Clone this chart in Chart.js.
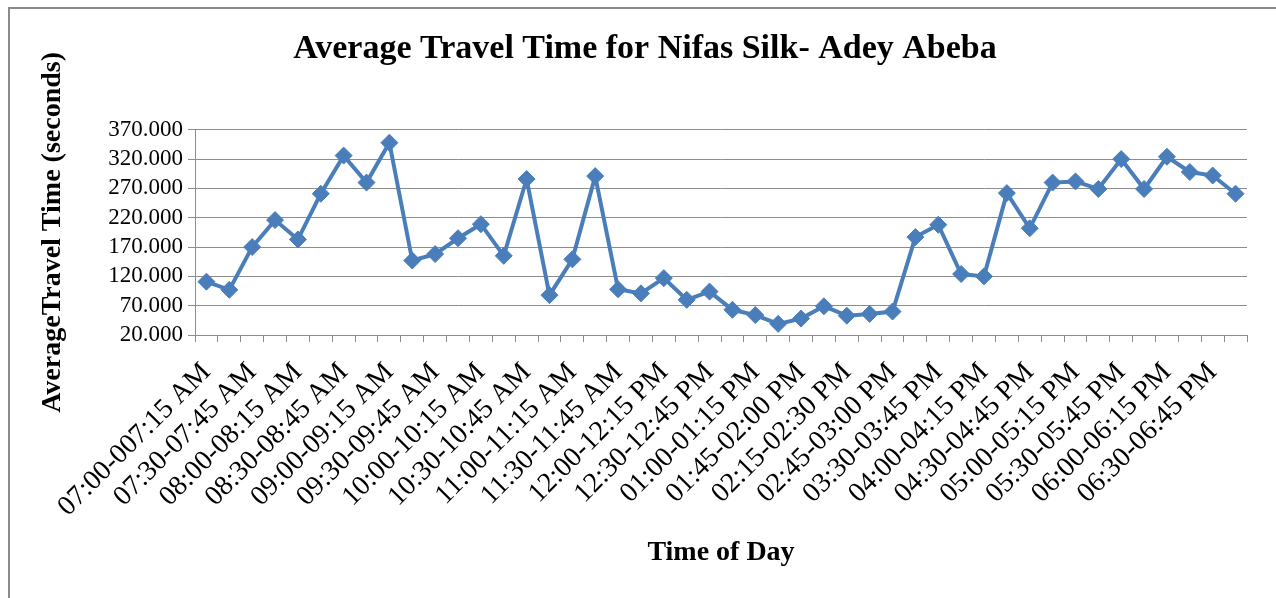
<!DOCTYPE html>
<html>
<head>
<meta charset="utf-8">
<script src="https://cdn.jsdelivr.net/npm/chart.js@4/dist/chart.umd.min.js"></script>
<style>
  html, body { margin: 0; padding: 0; background: #fff; }
  #wrap { position: relative; width: 1276px; height: 598px; overflow: hidden; }
  #frame { position: absolute; left: 8px; top: 7px; width: 1300px; height: 620px;
           border-left: 2px solid #8a8a8a; border-top: 2px solid #8a8a8a; pointer-events: none; }
</style>
</head>
<body>
<div id="wrap">
  <canvas id="myChart" width="1276" height="598"></canvas>
  <div id="frame"></div>
</div>
<script>
const timeSlots = [
  '07:00-007:15 AM', '07:15-07:30 AM', '07:30-07:45 AM', '07:45-08:00 AM',
  '08:00-08:15 AM', '08:15-08:30 AM', '08:30-08:45 AM', '08:45-09:00 AM',
  '09:00-09:15 AM', '09:15-09:30 AM', '09:30-09:45 AM', '09:45-10:00 AM',
  '10:00-10:15 AM', '10:15-10:30 AM', '10:30-10:45 AM', '10:45-11:00 AM',
  '11:00-11:15 AM', '11:15-11:30 AM', '11:30-11:45 AM', '11:45-12:00 PM',
  '12:00-12:15 PM', '12:15-12:30 PM', '12:30-12:45 PM', '12:45-01:00 PM',
  '01:00-01:15 PM', '01:15-01:30 PM', '01:45-02:00 PM', '02:00-02:15 PM',
  '02:15-02:30 PM', '02:30-02:45 PM', '02:45-03:00 PM', '03:00-03:15 PM',
  '03:30-03:45 PM', '03:45-04:00 PM', '04:00-04:15 PM', '04:15-04:30 PM',
  '04:30-04:45 PM', '04:45-05:00 PM', '05:00-05:15 PM', '05:15-05:30 PM',
  '05:30-05:45 PM', '05:45-06:00 PM', '06:00-06:15 PM', '06:15-06:30 PM',
  '06:30-06:45 PM', '06:45-07:00 PM'
];

const travelTime = [
  111, 97, 170, 216, 183, 261, 326, 280, 348, 147, 158, 185,
  209, 155, 286, 88, 149, 291, 98, 91, 117, 80, 94, 63,
  54, 39, 48, 69, 53, 56, 60, 187, 208, 124, 120, 262,
  202, 280, 282, 269, 320, 269, 324, 298, 292, 261
];

const yMin = 20;
const yMax = 370;
const yStep = 50;

const serif = '"Liberation Serif", "Times New Roman", serif';
const blue = '#4a7ebb';
const grey = '#8c8c8c';

const ctx = document.getElementById('myChart').getContext('2d');

new Chart(ctx, {
  type: 'line',
  data: {
    labels: timeSlots,
    datasets: [{
      label: 'Average Travel Time',
      data: travelTime,
      borderColor: blue,
      backgroundColor: blue,
      borderWidth: 4,
      pointStyle: 'rectRot',
      pointRadius: 8.5,
      pointBorderWidth: 1,
      pointBackgroundColor: blue,
      pointBorderColor: blue,
      tension: 0
    }]
  },
  options: {
    responsive: false,
    animation: false,
    // left/right padding also centres the title where the original has it
    layout: { padding: { left: 43, right: 29, top: 0, bottom: 0 } },
    plugins: {
      legend: { display: false },
      tooltip: { enabled: false },
      title: {
        display: true,
        text: 'Average Travel Time for Nifas Silk- Adey Abeba',
        color: '#000',
        font: { family: serif, size: 34, weight: 'bold' },
        padding: { top: 29, bottom: 60 }
      }
    },
    scales: {
      x: {
        offset: true,
        afterFit: (s) => { s.height = 263; },
        border: { color: grey, width: 1 },
        grid: { offset: true, drawOnChartArea: false, drawTicks: true, tickLength: 7, color: grey },
        ticks: {
          autoSkip: false,
          minRotation: 45,
          maxRotation: 45,
          padding: 14,
          color: '#000',
          font: { family: serif, size: 28 },
          callback: (v, i) => (i % 2 === 0 ? timeSlots[i] : '')
        },
        title: {
          display: true,
          text: 'Time of Day',
          color: '#000',
          font: { family: serif, size: 28, weight: 'bold' },
          padding: { top: 0, bottom: 28 }
        }
      },
      y: {
        min: yMin,
        max: yMax,
        afterFit: (s) => { s.width = 152; },
        border: { color: grey, width: 1 },
        grid: { color: grey, lineWidth: 1, tickLength: 7 },
        ticks: {
          autoSkip: false,
          stepSize: yStep,
          padding: 5,
          color: '#000',
          font: { family: serif, size: 23 },
          callback: (v) => Number(v).toFixed(3)
        },
        title: {
          display: true,
          text: 'AverageTravel Time (seconds)',
          color: '#000',
          font: { family: serif, size: 28, weight: 'bold' },
          padding: { top: -7, bottom: 0 }
        }
      }
    }
  }
});
</script>
</body>
</html>
